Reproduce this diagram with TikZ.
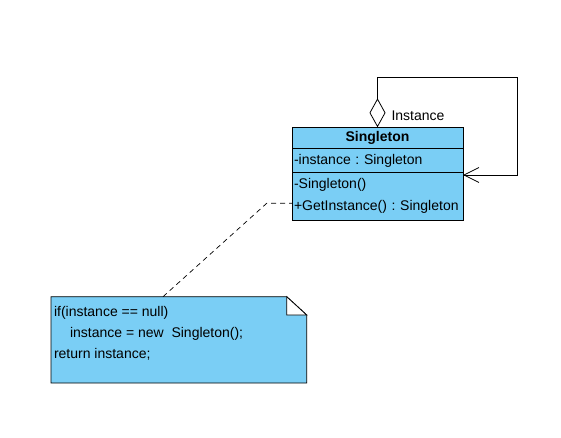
\documentclass[tikz,border=0pt]{standalone}
\usepackage{fontspec}
\setmainfont{Liberation Sans}
\frenchspacing
\usetikzlibrary{positioning,arrows.meta,calc}
\definecolor{UmlBlue}{RGB}{122,206,245}

\begin{document}
\begin{tikzpicture}[x=1pt, y=-1pt, line width=0.8pt,
    every node/.style={font=\fontsize{14}{22}\selectfont, inner sep=2pt, outer sep=0pt},
    classbox/.style={draw, fill=UmlBlue, text width=167pt},
    notefill/.style={draw, fill=UmlBlue}]
  \useasboundingbox (0,0) rectangle (561,438);

  % class Singleton
  \node[classbox, align=center, minimum height=21.4pt, anchor=north west, font=\fontsize{14}{22}\selectfont\bfseries] (sgl) at (292,127.3) {Singleton};
  \node[classbox, align=left, minimum height=24pt, below=0pt of sgl] (sglattr) {-instance : Singleton};
  \node[classbox, align=left, minimum height=47.3pt, below=0pt of sglattr] (sglops) {-Singleton()\\+GetInstance() : Singleton};

  % self association
  \coordinate (loopNE) at (517,77);
  \draw[{Diamond[open,length=29pt,width=16pt]}-{Straight Barb[length=15pt,width=15pt]}]
    (sgl.north) |- (loopNE) |- ($(sglops.north east)+(0,2.3)$);
  \node[anchor=west] (instlbl) at ($(sgl.north)+(12,-12)$) {Instance};

  % note
  \node[minimum width=255.7pt, minimum height=86.3pt, anchor=north west] (note) at (51,296.7) {};
  \draw[notefill] (note.north west) -- ($(note.north east)+(-20,0)$) -- ($(note.north east)+(0,18.3)$)
    -- (note.south east) -- (note.south west) -- cycle;
  \draw[fill=white] ($(note.north east)+(-20,0)$) -- ($(note.north east)+(-20,18.3)$) -- ($(note.north east)+(0,18.3)$) -- cycle;
  \node[anchor=north west, align=left, inner sep=3pt, font=\fontsize{14}{21}\selectfont] (notetxt) at ($(note.north west)+(0,7)$)
    {if(instance == null)\\\hspace*{16pt}instance = new\ \ Singleton();\\return instance;};

  \coordinate (notebend) at (266.7,203.3);
  \draw[dash pattern=on 5pt off 4pt, line width=0.7pt] ($(note.north west)+(112,0)$) -- (notebend) -- (notebend -| sglops.west);
\end{tikzpicture}
\end{document}
